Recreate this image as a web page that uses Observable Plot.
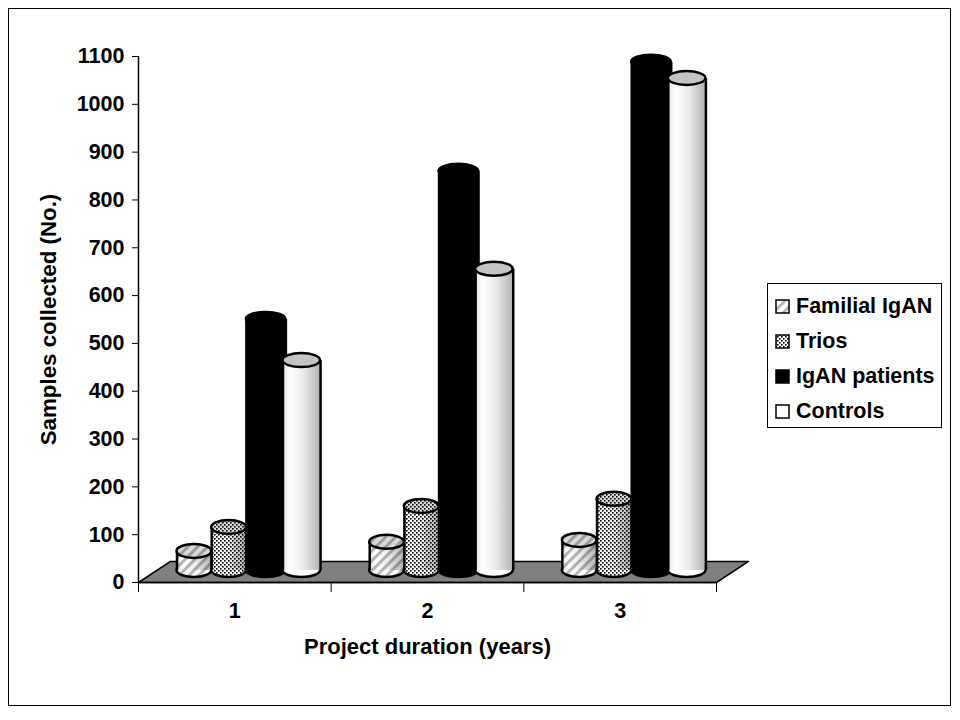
<!DOCTYPE html>
<html>
<head>
<meta charset="utf-8">
<script src="https://cdn.jsdelivr.net/npm/d3@7"></script>
<script src="https://cdn.jsdelivr.net/npm/@observablehq/plot@0.6"></script>
<style>
  html, body { margin: 0; padding: 0; background: #fff; }
  #wrap { position: relative; width: 960px; height: 720px; overflow: hidden; font-family: "Liberation Sans", Arial, sans-serif; font-weight: bold; color: #000; }
  #wrap > svg { position: absolute; left: 0; top: 0; }
  #frame { position: absolute; left: 8px; top: 8px; width: 941px; height: 696px; border: 1px solid #000; pointer-events: none; }
  #legend { position: absolute; left: 767px; top: 283px; width: 175px; height: 145px; border: 1.5px solid #000; background: #fff; box-sizing: border-box; }
  .row { position: absolute; left: 7px; height: 24px; display: flex; align-items: center; font-size: 21.5px; white-space: nowrap; }
  .row svg { width: 15px; height: 15px; margin-right: 6px; flex: none; }
</style>
</head>
<body>
<svg width="0" height="0" style="position:absolute">
  <defs>
    <pattern id="hatch" width="7" height="7" patternUnits="userSpaceOnUse" patternTransform="rotate(45)">
      <rect width="7" height="7" fill="#fff"/>
      <rect width="2.8" height="7" fill="#b4b4b4"/>
    </pattern>
    <pattern id="dots" width="4" height="4" patternUnits="userSpaceOnUse">
      <rect width="4" height="4" fill="#fff"/>
      <rect width="1.6" height="1.6" fill="#000"/>
      <rect x="2" y="2" width="1.6" height="1.6" fill="#000"/>
    </pattern>
    <linearGradient id="shade" x1="0" x2="1" y1="0" y2="0">
      <stop offset="0" stop-color="#000" stop-opacity="0.1"/>
      <stop offset="0.2" stop-color="#000" stop-opacity="0"/>
      <stop offset="0.55" stop-color="#000" stop-opacity="0.08"/>
      <stop offset="1" stop-color="#000" stop-opacity="0.3"/>
    </linearGradient>
  </defs>
</svg>
<div id="wrap"><div id="frame"></div><div id="legend"></div></div>
<script>
const years = ["1", "2", "3"];
const seriesNames = ["Familial IgAN", "Trios", "IgAN patients", "Controls"];
const familial = [65, 84, 88];
const trios = [115, 159, 174];
const patients = [550, 860, 1088];
const controls = [464, 655, 1054];
const yTicks = [0, 100, 200, 300, 400, 500, 600, 700, 800, 900, 1000, 1100];

// Pseudo-3D layout, in x-scale units (one unit = one year group)
const slots = [[0.2, 0.38], [0.38, 0.56], [0.56, 0.765], [0.75, 0.945]];
const fills = ["url(#hatch)", "url(#dots)", "#000", "#fff"];
const capFills = ["url(#hatch)", "url(#dots)", "#000", "#c4c4c4"];
const baseValue = 25;
const capR = 7;
const floorDepth = 44, floorSkew = 0.166;

const seriesValues = [familial, trios, patients, controls];
const layers = seriesNames.flatMap((name, s) => {
  const rows = years.map((y, i) => ({
    x1: i + slots[s][0], x2: i + slots[s][1], value: seriesValues[s][i]
  }));
  const ell = {x1: "x1", x2: "x2", rx: 100, ry: 100, insetTop: -capR, insetBottom: -capR, stroke: "#000", strokeWidth: 2.5};
  const shaded = s !== 2;
  return [
    // bottom rim
    Plot.rect(rows, {...ell, y1: () => baseValue, y2: () => baseValue, fill: fills[s]}),
    // body
    Plot.rect(rows, {x1: "x1", x2: "x2", y1: () => baseValue, y2: "value", fill: fills[s]}),
    shaded ? Plot.rect(rows, {x1: "x1", x2: "x2", y1: () => baseValue, y2: "value", fill: "url(#shade)"}) : null,
    // sides
    Plot.ruleX(rows, {x: "x1", y1: () => baseValue, y2: "value", stroke: "#000", strokeWidth: 2.5}),
    Plot.ruleX(rows, {x: "x2", y1: () => baseValue, y2: "value", stroke: "#000", strokeWidth: 2.5}),
    // top cap
    Plot.rect(rows, {...ell, y1: "value", y2: "value", fill: capFills[s]}),
    s < 2 ? Plot.rect(rows, {...ell, y1: "value", y2: "value", fill: "#000", fillOpacity: 0.15, stroke: "none"}) : null
  ];
});

const floor = [
  {x: 0, y: 0}, {x: years.length, y: 0},
  {x: years.length + floorSkew, y: floorDepth}, {x: floorSkew, y: floorDepth}, {x: 0, y: 0}
];
const yearLabels = years.map((y, i) => ({x: i + 0.5, label: y}));
const font = {fontFamily: "'Liberation Sans', Arial, sans-serif", fontWeight: "bold"};

const chart = Plot.plot({
  width: 960, height: 720,
  marginLeft: 138, marginRight: 244, marginTop: 56, marginBottom: 138,
  style: {background: "transparent", overflow: "visible"},
  x: {domain: [0, years.length], axis: null},
  y: {domain: [0, 1100], axis: null},
  marks: [
    Plot.line(floor, {x: "x", y: "y", fill: "#808080", stroke: "#000", strokeWidth: 1.5}),
    ...layers.filter(Boolean),
    Plot.ruleX([0], {y1: 0, y2: 1100, stroke: "#000", strokeWidth: 1.5}),
    Plot.ruleY([0], {x1: 0, x2: years.length, stroke: "#000", strokeWidth: 1.5}),
    Plot.axisY({ticks: yTicks, tickSize: 6, tickPadding: 8, tickFormat: d => String(d), label: null, fontSize: 21.5, ...font, stroke: "#000", fill: "#000"}),
    Plot.axisX({ticks: d3.range(years.length + 1), tickSize: 10, tickFormat: () => "", label: null, stroke: "#000"}),
    Plot.text(yearLabels, {x: "x", y: 0, text: "label", dy: 29, fontSize: 21.5, ...font, fill: "#000"}),
    Plot.text(["Project duration (years)"], {frameAnchor: "bottom", dy: 71, fontSize: 22, ...font, fill: "#000"}),
    Plot.text(["Samples collected (No.)"], {frameAnchor: "left", textAnchor: "middle", rotate: -90, dx: -90, fontSize: 22.3, ...font, fill: "#000"})
  ]
});
document.getElementById("wrap").prepend(chart);

// Legend
const legend = document.getElementById("legend");
const swatches = ["url(#hatch)", "url(#dots)", "#000", "#fff"];
const rowTops = [10, 45, 80, 115];
seriesNames.forEach((name, i) => {
  const row = document.createElement("div");
  row.className = "row";
  row.style.top = rowTops[i] + "px";
  row.innerHTML = `<svg viewBox="0 0 15 15"><rect x="1" y="1" width="13" height="13" fill="${swatches[i]}" stroke="#000" stroke-width="1.5"/></svg><span>${name}</span>`;
  legend.appendChild(row);
});
</script>
</body>
</html>
